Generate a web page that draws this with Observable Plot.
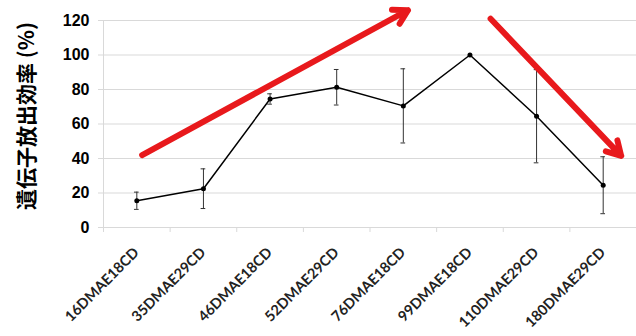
<!DOCTYPE html>
<html><head><meta charset="utf-8">
<script src="https://cdn.jsdelivr.net/npm/d3@7"></script>
<script src="https://cdn.jsdelivr.net/npm/@observablehq/plot@0.6"></script>
<style>body{margin:0;background:#fff;overflow:hidden}</style>
</head><body><div id="chart"></div>
<script>
const categories = ["16DMAE18CD","35DMAE29CD","46DMAE18CD","52DMAE29CD","76DMAE18CD","99DMAE18CD","110DMAE29CD","180DMAE29CD"];
const values = [15.5, 22.5, 74.5, 81.3, 70.5, 100, 64.5, 24.5];
const errors = [5, 11.5, 3, 10.3, 21.5, 0, 27, 16.5];
const yTicks = [0, 20, 40, 60, 80, 100, 120];
const yTitle = "遺伝子放出効率 (%)";
// trend arrows (category index position, value)
const arrowX1 = [0.08, 5.31];
const arrowY1 = [42, 121];
const arrowX2 = [4.07, 7.27];
const arrowY2 = [126, 41.5];

const data = categories.map((c, i) => ({i, c, v: values[i], e: errors[i]}));
const withErr = data.filter(d => d.e > 0);
const arrows = arrowX1.map((x, k) => ({x1: x, y1: arrowY1[k], x2: arrowX2[k], y2: arrowY2[k]}));
const boundaries = d3.range(categories.length + 1).map(i => i - 0.5);

const chart = Plot.plot({
  width: 636, height: 336,
  marginLeft: 103, marginRight: 0, marginTop: 20, marginBottom: 109,
  x: {type: "linear", domain: [-0.5, categories.length - 0.5]},
  y: {domain: [0, 120]},
  style: {fontFamily: "'Liberation Sans', Arial, sans-serif", background: "#fff"},
  marks: [
    Plot.ruleY(yTicks, {stroke: "#d9d9d9", strokeWidth: 1}),
    Plot.ruleX([-0.5], {y1: 0, y2: 120, stroke: "#d9d9d9"}),
    Plot.axisY({ticks: yTicks, tickSize: 5, stroke: "#d9d9d9", fill: "#000", tickPadding: 9, fontSize: 16, fontWeight: "bold", label: null}),
    Plot.axisX({ticks: boundaries, tickSize: 5, stroke: "#d9d9d9", tickFormat: () => "", label: null}),
    Plot.text(data, {x: "i", y: 0, text: "c", rotate: -45, textAnchor: "end", lineAnchor: "bottom", dx: 3, dy: 26, fontSize: 14.5, fontFamily: "Lato", fontWeight: "bold", fill: "#222"}),
    Plot.ruleX(withErr, {x: "i", y1: d => d.v - d.e, y2: d => d.v + d.e, stroke: "#333", strokeWidth: 1}),
    Plot.ruleY(withErr, {y: d => d.v + d.e, x1: d => d.i - 0.035, x2: d => d.i + 0.035, stroke: "#333", strokeWidth: 1}),
    Plot.ruleY(withErr, {y: d => d.v - d.e, x1: d => d.i - 0.035, x2: d => d.i + 0.035, stroke: "#333", strokeWidth: 1}),
    Plot.line(data, {x: "i", y: "v", stroke: "#000", strokeWidth: 1.5}),
    Plot.dot(data, {x: "i", y: "v", r: 2.5, fill: "#000"}),
    Plot.arrow(arrows, {x1: "x1", y1: "y1", x2: "x2", y2: "y2", stroke: "#e8191c", strokeWidth: 6, headLength: 4}),
    Plot.text([yTitle], {text: d => d, frameAnchor: "left", textAnchor: "middle", rotate: -90, dx: -76, dy: -8, fontSize: 21, fontWeight: "bold", fontFamily: "'Noto Sans CJK JP'", fill: "#000"})
  ]
});
document.getElementById("chart").appendChild(chart);
</script>
</body></html>
